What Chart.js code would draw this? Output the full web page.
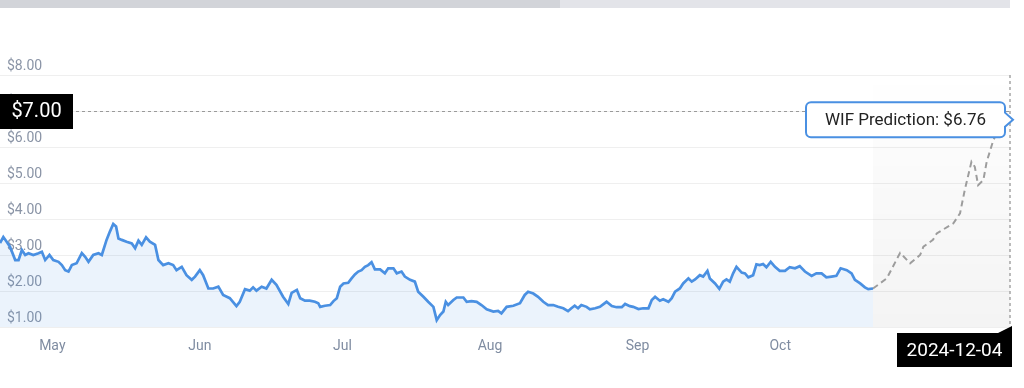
<!DOCTYPE html>
<html>
<head>
<meta charset="utf-8">
<script src="https://cdn.jsdelivr.net/npm/chart.js@4.4.1/dist/chart.umd.min.js"></script>
<style>
  html, body { margin: 0; padding: 0; background: #fff; }
  #wrap { position: relative; width: 1024px; height: 388px; overflow: hidden; }
  #bar1 { position: absolute; left: 0; top: 0; width: 560px; height: 8px; background: #d2d4d9; }
  #bar2 { position: absolute; left: 560px; top: 0; width: 450px; height: 8px; background: #e3e4e9; }
  canvas { position: absolute; left: 0; top: 0; }
</style>
</head>
<body>
<div id="wrap">
  <canvas id="myChart" width="1024" height="388"></canvas>
  <div id="bar1"></div><div id="bar2"></div>
</div>
<script>
// days counted from 2024-04-20
const histDays = [0.0,0.7,1.4,2.1,3.2,3.9,4.6,5.3,6.0,7.0,8.1,8.8,9.5,10.4,11.2,12.3,13.0,13.7,14.4,15.1,16.1,17.2,17.9,18.6,19.6,20.7,21.4,22.4,23.1,23.8,24.4,24.9,25.6,26.6,27.7,28.4,29.1,29.8,30.7,31.5,32.6,33.3,34.3,35.4,36.4,37.1,38.2,39.2,40.3,41.0,42.0,42.7,43.8,44.8,45.9,46.9,48.3,49.7,50.4,51.5,52.5,53.2,53.9,55.0,56.0,57.1,58.1,59.5,60.6,61.3,62.4,63.1,
  64.1,65.1,66.2,66.9,67.3,68.3,69.4,70.1,70.8,71.5,72.2,73.2,73.9,74.6,75.3,76.0,76.7,77.4,78.1,78.8,79.9,80.9,81.6,82.7,83.4,84.4,85.1,86.2,87.2,87.9,89.0,90.0,91.1,91.8,92.5,93.2,93.7,94.2,95.3,96.0,97.4,98.1,99.1,100.2,101.2,102.3,103.7,104.7,105.4,106.5,107.9,109.3,110.3,111.0,112.1,113.1,114.2,115.2,116.3,117.3,118.4,119.4,120.1,120.8,121.5,122.2,123.3,124.0,125.1,126.1,
  127.5,128.6,129.6,130.7,131.4,132.4,133.1,134.2,135.2,136.3,137.0,137.7,138.7,139.4,140.5,141.2,141.9,142.9,143.6,144.7,145.4,146.1,147.1,147.8,148.7,149.2,150.3,151.2,152.0,152.7,153.4,154.1,154.8,155.9,156.6,157.3,158.3,159.0,159.7,160.4,161.1,162.0,162.9,163.9,165.0,166.0,167.1,168.1,169.2,170.6,171.6,172.7,173.7,174.8,175.8,176.7,178.0,179.0,179.7,180.8,181.8,182.5,183.5];
const histPrices = [3.33,3.50,3.37,3.23,2.86,2.86,3.14,3.00,3.05,3.00,3.05,3.09,2.86,3.00,2.86,2.81,2.72,2.58,2.54,2.72,2.77,3.05,2.95,2.81,3.00,3.05,3.00,3.42,3.65,3.86,3.79,3.46,3.42,3.37,3.32,3.19,3.40,3.28,3.49,3.37,3.28,2.86,2.72,2.77,2.72,2.58,2.67,2.44,2.31,2.40,2.58,2.44,2.07,2.07,2.12,1.89,1.80,1.58,1.70,2.05,2.01,2.10,2.01,2.12,2.07,2.31,2.17,1.84,1.64,1.95,2.03,1.80,
  1.73,1.73,1.70,1.66,1.56,1.59,1.61,1.72,1.80,2.12,2.21,2.23,2.35,2.46,2.54,2.58,2.67,2.72,2.80,2.60,2.60,2.49,2.63,2.63,2.49,2.54,2.40,2.31,2.26,1.98,1.84,1.70,1.56,1.19,1.33,1.43,1.70,1.61,1.75,1.82,1.82,1.70,1.72,1.70,1.61,1.49,1.43,1.45,1.38,1.56,1.59,1.66,1.89,1.98,1.93,1.84,1.70,1.61,1.61,1.56,1.52,1.44,1.52,1.59,1.52,1.61,1.56,1.49,1.52,1.56,
  1.70,1.58,1.55,1.55,1.64,1.58,1.56,1.50,1.52,1.52,1.75,1.84,1.73,1.77,1.70,1.80,1.98,2.07,2.21,2.35,2.26,2.32,2.44,2.40,2.56,2.35,2.21,2.06,2.26,2.32,2.26,2.49,2.67,2.51,2.49,2.38,2.44,2.74,2.72,2.75,2.66,2.81,2.67,2.56,2.56,2.66,2.63,2.69,2.54,2.42,2.49,2.49,2.38,2.40,2.42,2.63,2.58,2.49,2.31,2.21,2.10,2.05,2.07];

const predDays = [183.5,186.4,189.2,191.3,193.4,194.1,196.1,196.9,200.4,201.8,202.8,204.2,204.9,205.6,206.7,207.4,208.8,210.2,212.3];
const predPrices = [2.07,2.35,3.06,2.77,3.00,3.23,3.42,3.60,3.88,4.16,4.81,5.59,5.45,4.94,5.08,5.59,6.19,6.56,6.76];

const monthStarts = [11, 42, 72, 103, 134, 164];
const monthLabels = ['May', 'Jun', 'Jul', 'Aug', 'Sep', 'Oct'];

const targetPrice = 7.00;
const predictionName = 'WIF Prediction';
const predictionEndDate = '2024-12-04';

const money = v => '$' + Number(v).toFixed(2);

Chart.defaults.font.family = 'Roboto, "Noto Sans", sans-serif';

const overlays = {
  id: 'overlays',
  beforeDatasetsDraw(chart) {
    const { ctx, chartArea: a, scales: { x } } = chart;
    const x0 = x.getPixelForValue(histDays[histDays.length - 1]);
    const g = ctx.createLinearGradient(0, a.top, 0, a.bottom);
    g.addColorStop(0, 'rgba(0,0,0,0)');
    g.addColorStop(0.4, 'rgba(0,0,0,0.02)');
    g.addColorStop(1, 'rgba(0,0,0,0.045)');
    ctx.save();
    ctx.fillStyle = g;
    ctx.fillRect(x0, a.top, a.right - x0, a.bottom - a.top);
    ctx.restore();
  },
  afterDatasetsDraw(chart) {
    const { ctx, chartArea: a, scales: { x, y } } = chart;
    const xEnd = x.getPixelForValue(predDays[predDays.length - 1]);
    const yT = y.getPixelForValue(targetPrice);
    const lastPred = predPrices[predPrices.length - 1];
    const yP = y.getPixelForValue(lastPred);
    ctx.save();

    // target level line
    ctx.strokeStyle = '#9a9a9a';
    ctx.lineWidth = 1;
    ctx.setLineDash([3, 3]);
    ctx.beginPath();
    ctx.moveTo(76, yT + 0.5);
    ctx.lineTo(xEnd, yT + 0.5);
    ctx.stroke();

    // vertical line at prediction end
    ctx.strokeStyle = '#a5a5a5';
    ctx.lineWidth = 1.5;
    ctx.beginPath();
    ctx.moveTo(xEnd, a.top);
    ctx.lineTo(xEnd, a.bottom);
    ctx.stroke();
    ctx.setLineDash([]);

    // target badge
    ctx.fillStyle = '#000';
    ctx.fillRect(0, yT - 17, 73, 35);
    ctx.fillStyle = '#fff';
    ctx.font = '20px Roboto';
    ctx.textAlign = 'center';
    ctx.textBaseline = 'middle';
    ctx.fillText(money(targetPrice), 36.5, yT + 1);

    // prediction tooltip
    const R = xEnd - 5, L = R - 199, T = yP - 17.5, B = yP + 17.5, r = 5;
    ctx.beginPath();
    ctx.moveTo(L + r, T);
    ctx.lineTo(R - r, T);
    ctx.arcTo(R, T, R, T + r, r);
    ctx.lineTo(R, yP - 7);
    ctx.lineTo(R + 8, yP);
    ctx.lineTo(R, yP + 7);
    ctx.lineTo(R, B - r);
    ctx.arcTo(R, B, R - r, B, r);
    ctx.lineTo(L + r, B);
    ctx.arcTo(L, B, L, B - r, r);
    ctx.lineTo(L, T + r);
    ctx.arcTo(L, T, L + r, T, r);
    ctx.closePath();
    ctx.fillStyle = '#fff';
    ctx.fill();
    ctx.strokeStyle = '#4a90e2';
    ctx.lineWidth = 2;
    ctx.stroke();
    ctx.fillStyle = '#222';
    ctx.font = '17px Roboto';
    ctx.fillText(predictionName + ': ' + money(lastPred), (L + R) / 2, yP + 1);

    // end date badge
    const bR = xEnd + 2, bL = bR - 115, bT = a.bottom + 6, bB = bT + 34;
    ctx.fillStyle = '#000';
    ctx.beginPath();
    ctx.moveTo(bL, bT);
    ctx.lineTo(bR - 14, bT);
    ctx.lineTo(bR, bT - 7);
    ctx.lineTo(bR, bB);
    ctx.lineTo(bL, bB);
    ctx.closePath();
    ctx.fill();
    ctx.fillStyle = '#fff';
    ctx.font = '19px Roboto';
    ctx.fillText(predictionEndDate, (bL + bR) / 2, (bT + bB) / 2 + 1);
    ctx.restore();
  }
};

const ctx = document.getElementById('myChart');
new Chart(ctx, {
  type: 'line',
  data: {
    datasets: [{
      label: 'WIF',
      data: histDays.map((d, i) => ({ x: d, y: histPrices[i] })),
      borderColor: '#4a90e2',
      borderWidth: 2.7,
      backgroundColor: 'rgba(74,144,226,0.11)',
      fill: 'start',
      pointRadius: 0,
      tension: 0
    }, {
      label: predictionName,
      data: predDays.map((d, i) => ({ x: d, y: predPrices[i] })),
      borderColor: '#9d9d9d',
      borderWidth: 2,
      borderDash: [6, 4],
      fill: false,
      pointRadius: 0,
      tension: 0
    }]
  },
  options: {
    responsive: false,
    animation: false,
    layout: { padding: { left: 0, right: 14, top: 75, bottom: 34 } },
    plugins: { legend: { display: false }, tooltip: { enabled: false } },
    scales: {
      x: {
        type: 'linear',
        min: histDays[0],
        max: predDays[predDays.length - 1],
        afterBuildTicks: axis => { axis.ticks = monthStarts.map(v => ({ value: v })); },
        afterFit: axis => { axis.height = 27; },
        grid: { display: false, drawTicks: false },
        border: { display: false },
        ticks: {
          autoSkip: false,
          maxRotation: 0,
          padding: 11,
          color: '#7f8ca1',
          font: { size: 14 },
          callback: (v, i) => monthLabels[i]
        }
      },
      y: {
        min: 1,
        max: 8,
        afterFit: axis => { axis.width = 0; },
        grid: { color: '#efefef', drawTicks: false },
        border: { display: false },
        ticks: {
          stepSize: 1,
          mirror: true,
          padding: 7,
          labelOffset: -9,
          color: '#8a94a6',
          font: { size: 14 },
          callback: v => money(v)
        }
      }
    }
  },
  plugins: [overlays]
});
</script>
</body>
</html>
